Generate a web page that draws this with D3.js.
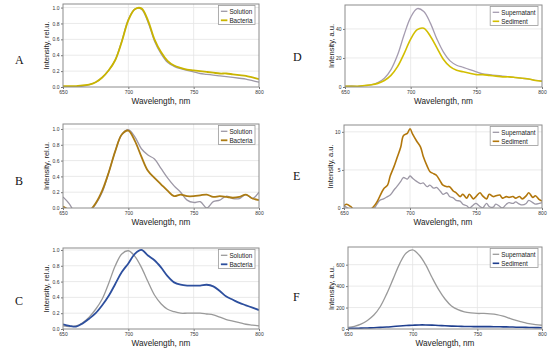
<!DOCTYPE html>
<html>
<head>
<meta charset="utf-8">
<script src="https://cdn.jsdelivr.net/npm/d3@7"></script>
<style>
body { margin: 0; background: #fff; }
text { font-family: "Liberation Sans", Arial, sans-serif; }
</style>
</head>
<body>
<script>
// wavelength grids
var wl5 = [650,655,660,665,670,675,680,685,690,695,700,705,710,715,720,725,730,735,740,745,750,755,760,765,770,775,780,785,790,795,800];
var wlE = [650,652,655,658,662,666,670,673,675,677,680,683,685,688,690,693,695,698,700,702,705,708,710,713,715,718,720,723,725,728,730,733,735,738,740,743,745,748,750,753,755,758,760,763,765,768,770,773,775,778,780,783,785,788,790,793,795,798,800];

// A
var aSolution = [0.0,0.0,0.0,0.01,0.03,0.06,0.12,0.21,0.34,0.58,0.85,0.98,0.98,0.82,0.58,0.42,0.31,0.26,0.23,0.21,0.19,0.17,0.16,0.15,0.14,0.13,0.12,0.11,0.10,0.08,0.06];
var aBacteria = [0.01,0.01,0.01,0.02,0.03,0.06,0.12,0.21,0.34,0.57,0.84,0.98,0.99,0.84,0.6,0.44,0.33,0.27,0.24,0.22,0.21,0.2,0.19,0.18,0.17,0.17,0.16,0.15,0.14,0.12,0.1];
// D
var dSupernatant = [0.5,0.8,0.5,1,1.5,3,6,12,22,36,48,54,52,44,33,24,18,15,13.5,12,10.5,9,8.5,8,7.5,7,6.5,6,5.5,4.5,4];
var dSediment = [0.5,0.5,0.5,1,1.5,2.5,4.5,8,14,23,33,39.5,40.5,35,27,19,14,11.5,10.5,9.5,8.5,8.5,8,7.5,7,7,6.5,6,5.5,4.5,4];
// B
var bSolution = [0.14,0.05,-0.08,-0.1,-0.05,0.05,0.2,0.45,0.72,0.93,0.99,0.9,0.75,0.67,0.62,0.5,0.38,0.28,0.2,0.1,0.07,0.08,0.0,0.08,0.1,0.15,0.12,0.12,0.17,0.12,0.2];
var bBacteria = [0.02,-0.03,-0.08,-0.08,-0.04,0.06,0.22,0.45,0.72,0.93,0.98,0.85,0.65,0.47,0.38,0.3,0.22,0.15,0.17,0.15,0.15,0.16,0.17,0.14,0.15,0.14,0.13,0.14,0.17,0.12,0.1];
// E
var eSupernatant = [0.2,0.1,-0.3,-0.5,-0.5,-0.4,-0.2,0.0,0.5,1.0,1.2,1.5,1.7,2.4,2.8,3.5,4.0,3.8,4.2,3.9,3.5,3.2,3.3,2.8,3.0,2.6,2.7,2.2,1.8,2.0,1.5,1.3,1.0,0.9,0.5,0.3,0.0,0.4,0.6,0.2,0.0,0.6,0.2,0.1,0.5,0.2,0.0,0.5,0.7,0.6,0.8,0.5,0.4,0.6,1.0,0.7,0.5,0.6,0.7];
var eSediment = [0.3,0.5,0.2,-0.3,-0.5,-0.4,-0.2,0.3,0.8,1.5,2.5,3.0,4.2,5.5,6.5,8.0,9.5,9.8,10.4,9.7,8.8,8.0,6.8,5.5,4.8,4.5,4.3,3.5,3.0,2.8,2.8,2.2,2.0,1.5,1.8,1.3,1.8,1.2,1.5,2.0,1.6,1.2,1.8,1.5,1.6,1.7,1.3,1.5,1.4,1.5,1.3,1.5,1.2,1.6,2.0,1.4,1.6,1.1,0.9];
// C
var cSolution = [0.04,0.03,0.04,0.08,0.15,0.25,0.38,0.58,0.8,0.95,0.99,0.92,0.78,0.6,0.43,0.32,0.25,0.22,0.2,0.2,0.2,0.2,0.19,0.18,0.15,0.12,0.1,0.08,0.06,0.05,0.04];
var cBacteria = [0.06,0.04,0.03,0.07,0.13,0.2,0.3,0.42,0.57,0.72,0.83,0.95,1.0,0.93,0.87,0.78,0.67,0.59,0.56,0.55,0.55,0.55,0.56,0.54,0.48,0.41,0.37,0.33,0.3,0.27,0.24];
// F
var fSupernatant = [15,25,45,80,130,210,330,470,610,710,738,690,600,480,370,280,215,180,160,150,145,145,142,135,120,100,80,65,50,40,35];
var fSediment = [5,6,8,10,12,15,18,23,28,32,35,38,38,36,33,30,27,25,24,23,22,22,22,21,20,19,17,16,14,13,12];

var xTicks = [650,700,750,800];

var panels = [
  {letter:"A", lx:15, ly:64, l:63, r:259, t:4, b:87, ymax:1.045, yTicks:[0,0.2,0.4,0.6,0.8,1.0], fmt:".1f", ylab:"Intensity, rel.u.", yo:16.5,
   x:wl5, series:[{name:"Solution", v:aSolution, c:"#9d98a6", w:1.3},{name:"Bacteria", v:aBacteria, c:"#c9b400", w:1.8}]},
  {letter:"B", lx:15, ly:185, l:63, r:259, t:124, b:208, ymax:1.063, yTicks:[0,0.2,0.4,0.6,0.8,1.0], fmt:".1f", ylab:"Intensity, rel.u.", yo:16.5,
   x:wl5, series:[{name:"Solution", v:bSolution, c:"#9d98a6", w:1.3},{name:"Bacteria", v:bBacteria, c:"#ac7b12", w:1.8}]},
  {letter:"C", lx:15, ly:305, l:63, r:259, t:248, b:329, ymax:1.025, yTicks:[0,0.2,0.4,0.6,0.8,1.0], fmt:".1f", ylab:"Intensity, rel.u.", yo:16.5,
   x:wl5, series:[{name:"Solution", v:cSolution, c:"#9a9a9a", w:1.3},{name:"Bacteria", v:cBacteria, c:"#2d4f9e", w:1.8}]},
  {letter:"D", lx:293, ly:61, l:345, r:542, t:5, b:87, ymax:56.5, yTicks:[0,20,40], fmt:"d", ylab:"Intensity, a.u.", yo:14,
   x:wl5, series:[{name:"Supernatant", v:dSupernatant, c:"#a59cb0", w:1.3},{name:"Sediment", v:dSediment, c:"#d2be00", w:1.6}]},
  {letter:"E", lx:293, ly:180, l:344, r:542, t:125, b:208, ymax:10.9, yTicks:[0,5,10], fmt:"d", ylab:"Intensity, a.u.", yo:14,
   x:wlE, series:[{name:"Supernatant", v:eSupernatant, c:"#9d98a6", w:1.3},{name:"Sediment", v:eSediment, c:"#b2770c", w:1.6}]},
  {letter:"F", lx:293, ly:301, l:348, r:542, t:247, b:329, ymax:765, yTicks:[0,200,400,600], fmt:"d", ylab:"Intensity, a.u.", yo:17,
   x:wl5, series:[{name:"Supernatant", v:fSupernatant, c:"#9a9a9a", w:1.3},{name:"Sediment", v:fSediment, c:"#1f3f8f", w:1.6}]}
];

var svg = d3.select("body").append("svg")
  .attr("width", 550)
  .attr("height", 352);

panels.forEach(function(p, i) {
  var x = d3.scaleLinear().domain([650, 800]).range([p.l, p.r]);
  var y = d3.scaleLinear().domain([0, p.ymax]).range([p.b, p.t]);
  var g = svg.append("g");

  // panel letter
  svg.append("text").attr("x", p.lx).attr("y", p.ly)
    .style("font-family", "'Liberation Serif', 'Times New Roman', serif")
    .style("font-size", "12px").attr("fill", "#111").text(p.letter);

  // grid
  g.selectAll(".gx").data(xTicks.slice(1, 3)).enter().append("line")
    .attr("x1", x).attr("x2", x).attr("y1", p.t).attr("y2", p.b)
    .attr("stroke", "#e4e4e4").attr("stroke-width", 0.8);
  g.selectAll(".gy").data(p.yTicks.slice(1)).enter().append("line")
    .attr("y1", y).attr("y2", y).attr("x1", p.l).attr("x2", p.r)
    .attr("stroke", "#e4e4e4").attr("stroke-width", 0.8);

  // axes
  var xa = g.append("g").attr("transform", "translate(0," + p.b + ")")
    .call(d3.axisBottom(x).tickValues(xTicks).tickSize(2).tickPadding(1.5).tickFormat(d3.format("d")));
  var ya = g.append("g").attr("transform", "translate(" + p.l + ",0)")
    .call(d3.axisLeft(y).tickValues(p.yTicks).tickSize(2).tickPadding(1.5).tickFormat(d3.format(p.fmt)));
  [xa, ya].forEach(function(a) {
    a.select(".domain").remove();
    a.selectAll("line").attr("stroke", "#777");
    a.selectAll("text").style("font-size", "5px").attr("fill", "#333");
  });
  xa.selectAll("text").attr("dy", "0.75em");

  // clip + lines
  svg.append("clipPath").attr("id", "clip" + i).append("rect")
    .attr("x", p.l).attr("y", p.t).attr("width", p.r - p.l).attr("height", p.b - p.t);
  var line = d3.line().x(function(d, k) { return x(p.x[k]); }).y(function(d) { return y(d); })
    .curve(d3.curveCatmullRom.alpha(0.5));
  p.series.forEach(function(s) {
    g.append("path").datum(s.v).attr("clip-path", "url(#clip" + i + ")")
      .attr("d", line).attr("fill", "none").attr("stroke", s.c).attr("stroke-width", s.w)
      .attr("stroke-linejoin", "round");
  });

  // frame
  g.append("rect").attr("x", p.l).attr("y", p.t).attr("width", p.r - p.l).attr("height", p.b - p.t)
    .attr("fill", "none").attr("stroke", "#8c8c8c").attr("stroke-width", 1);

  // axis titles
  g.append("text").attr("x", (p.l + p.r) / 2).attr("y", p.b + 16.5)
    .attr("text-anchor", "middle").style("font-size", "8.2px").attr("fill", "#222").text("Wavelength, nm");
  g.append("text").attr("transform", "translate(" + (p.l - p.yo) + "," + ((p.t + p.b) / 2) + ") rotate(-90)")
    .attr("text-anchor", "middle").attr("dy", "0.35em").style("font-size", "7.5px").attr("fill", "#222").text(p.ylab);

  // legend
  var lg = g.append("g");
  var box = lg.append("rect").attr("height", 19).attr("fill", "#fff")
    .attr("stroke", "#999").attr("stroke-width", 0.8);
  var tw = 0;
  p.series.forEach(function(s, k) {
    var yy = 5.8 + k * 9;
    lg.append("line").attr("x1", 2.5).attr("x2", 9).attr("y1", yy).attr("y2", yy)
      .attr("stroke", s.c).attr("stroke-width", s.w);
    var t = lg.append("text").attr("x", 11).attr("y", yy).attr("dy", "0.35em")
      .style("font-size", "6.3px").attr("fill", "#222").text(s.name);
    tw = Math.max(tw, t.node().getComputedTextLength());
  });
  var bw = 11 + tw + 2.5;
  box.attr("width", bw);
  lg.attr("transform", "translate(" + (p.r - 4 - bw) + "," + (p.t + 1.5) + ")");
});
</script>
</body>
</html>
